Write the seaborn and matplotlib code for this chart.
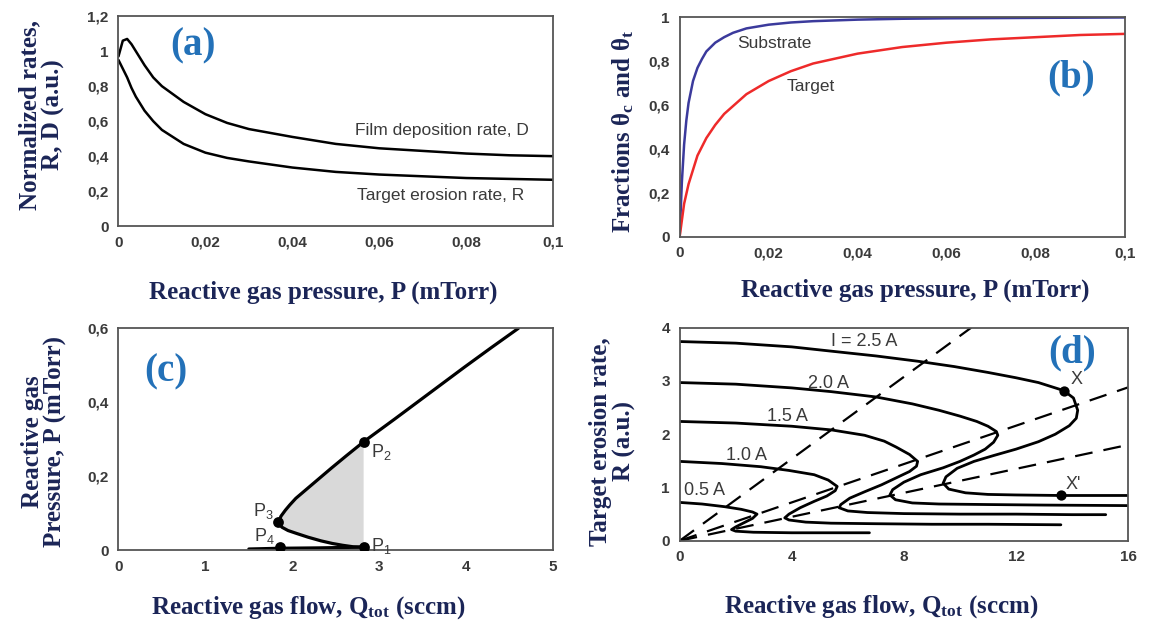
import numpy as np
import pandas as pd
import matplotlib
matplotlib.use("Agg")
import matplotlib.pyplot as plt
import seaborn as sns

sns.set_theme(style="white")
plt.rcParams["font.family"] = ["Liberation Sans", "DejaVu Sans"]
plt.rcParams["mathtext.default"] = "regular"

# ---------------- data ----------------
# (a) normalized rates vs pressure
a_p = [0, 0.001, 0.002, 0.003, 0.004, 0.006, 0.008, 0.01, 0.015, 0.02, 0.025, 0.03,
       0.04, 0.05, 0.06, 0.07, 0.08, 0.09, 0.1]
a_D = [0.97, 1.06, 1.07, 1.04, 1.0, 0.92, 0.85, 0.80, 0.71, 0.64, 0.59, 0.555,
       0.51, 0.47, 0.445, 0.43, 0.415, 0.405, 0.40]
a_R = [0.95, 0.90, 0.85, 0.79, 0.74, 0.66, 0.60, 0.55, 0.47, 0.42, 0.39, 0.37,
       0.335, 0.31, 0.295, 0.285, 0.275, 0.27, 0.265]

# (b) fractions vs pressure
b_p_sub = [0, 0.0005, 0.001, 0.0015, 0.002, 0.003, 0.004, 0.005, 0.006, 0.008, 0.01,
           0.012, 0.015, 0.02, 0.025, 0.03, 0.04, 0.05, 0.06, 0.08, 0.1]
b_sub = [0, 0.25, 0.42, 0.53, 0.61, 0.71, 0.77, 0.81, 0.845, 0.885, 0.91,
         0.93, 0.95, 0.967, 0.977, 0.983, 0.99, 0.994, 0.996, 0.998, 1.0]
b_p_tgt = [0, 0.001, 0.002, 0.004, 0.006, 0.008, 0.01, 0.015, 0.02, 0.025, 0.03,
           0.04, 0.05, 0.06, 0.07, 0.08, 0.09, 0.1]
b_tgt = [0, 0.15, 0.24, 0.37, 0.45, 0.51, 0.56, 0.65, 0.71, 0.755, 0.79,
         0.835, 0.865, 0.885, 0.9, 0.91, 0.92, 0.925]

# (c) pressure vs flow (S-curve)
c_low_q = [1.5, 1.86, 2.3, 2.82]
c_low_p = [0.003, 0.005, 0.006, 0.008]
c_mid_q = [2.82, 2.7, 2.58, 2.46, 2.33, 2.18, 2.05, 1.95, 1.88, 1.84]
c_mid_p = [0.008, 0.009, 0.013, 0.018, 0.025, 0.035, 0.045, 0.053, 0.062, 0.075]
c_up_q = [1.84, 1.87, 1.92, 1.97, 2.04, 2.17, 2.32, 2.45, 2.62, 2.82, 3.18, 3.58,
          3.98, 4.29, 4.6]
c_up_p = [0.075, 0.092, 0.108, 0.122, 0.14, 0.166, 0.196, 0.222, 0.255, 0.293,
          0.355, 0.425, 0.495, 0.548, 0.6]
c_pts_q = [2.82, 2.82, 1.84, 1.86]
c_pts_p = [0.009, 0.293, 0.075, 0.008]
c_pts_lbl = ["P$_1$", "P$_2$", "P$_3$", "P$_4$"]

# (d) erosion rate vs flow for several currents
d_currents = ["0.5 A", "1.0 A", "1.5 A", "2.0 A", "I = 2.5 A"]
d_q = [
    [0, 0.8, 1.6, 2.2, 2.6, 2.76, 2.6, 2.3, 2.0, 1.85, 2.0, 2.63, 4, 5.5, 6.77],
    [0, 1.5, 2.9, 3.9, 4.8, 5.3, 5.62, 5.55, 5.25, 4.8, 4.3, 3.9, 3.75, 3.9, 4.5,
     5.4, 7, 9, 11, 13.6],
    [0, 2, 4, 5.43, 6.6, 7.3, 7.72, 8.2, 8.49, 8.45, 8.2, 7.72, 7.2, 6.6, 6.07,
     5.75, 5.69, 6.0, 6.7, 8, 10, 12, 14, 15.2],
    [0, 2, 4, 5.4, 7, 8.3, 9.25, 10, 10.6, 11.0, 11.3, 11.35, 11.2, 10.9, 10.5,
     10, 9.4, 8.6, 8.0, 7.6, 7.5, 7.7, 8.3, 9.25, 11, 13, 16],
    [0, 2, 4, 5.4, 7, 8.5, 9.8, 11, 12, 12.8, 13.7, 14.05, 14.2, 14.15, 13.9,
     13.4, 12.8, 12, 11.2, 10.5, 9.9, 9.5, 9.4, 9.6, 10.2, 11, 12, 13.6, 16],
]
d_R = [
    [0.72, 0.69, 0.64, 0.59, 0.54, 0.5, 0.42, 0.34, 0.26, 0.21, 0.18, 0.16, 0.15,
     0.15, 0.15],
    [1.49, 1.45, 1.39, 1.32, 1.24, 1.14, 1.02, 0.94, 0.84, 0.74, 0.62, 0.5, 0.43,
     0.39, 0.35, 0.33, 0.32, 0.31, 0.31, 0.30],
    [2.24, 2.21, 2.15, 2.08, 1.98, 1.87, 1.76, 1.62, 1.49, 1.4, 1.3, 1.18, 1.05,
     0.92, 0.8, 0.68, 0.62, 0.56, 0.53, 0.51, 0.5, 0.5, 0.49, 0.49],
    [2.97, 2.94, 2.87, 2.8, 2.7, 2.57, 2.45, 2.34, 2.24, 2.15, 2.05, 1.98, 1.85,
     1.72, 1.61, 1.49, 1.37, 1.24, 1.1, 0.96, 0.86, 0.77, 0.71, 0.69, 0.68, 0.67,
     0.66],
    [3.74, 3.71, 3.64, 3.56, 3.47, 3.37, 3.27, 3.16, 3.06, 2.97, 2.82, 2.68, 2.45,
     2.3, 2.16, 2.0, 1.86, 1.72, 1.6, 1.49, 1.36, 1.2, 1.08, 0.97, 0.9, 0.87,
     0.86, 0.85, 0.85],
]
d_lbl_q = [0.89, 2.38, 3.84, 5.3, 6.6]
d_lbl_R = [0.94, 1.61, 2.33, 2.96, 3.74]
d_dash_q = [[0, 10.4], [0, 16], [0, 16]]
d_dash_R = [[0, 4.0], [0, 2.88], [0, 1.8]]
d_pts_q = [13.7, 13.6]
d_pts_R = [2.82, 0.85]
d_pts_lbl = ["X", "X'"]

# ---------------- style ----------------
NAVY = "#1b2557"
BLUE = "#2371b8"
TXT = "#3a3a3a"
SPINE = "#555555"
SERIF = ["Liberation Serif", "DejaVu Serif"]
LAB_FS = 18


def comma(v):
    s = f"{v:g}"
    return s.replace(".", ",")


def style_axes(ax, xt, yt, xl, yl):
    ax.set_xticks(xt)
    ax.set_yticks(yt)
    ax.set_xticklabels([comma(v) for v in xt])
    ax.set_yticklabels([comma(v) for v in yt])
    ax.set_xlim(xt[0], xt[-1])
    ax.set_ylim(yt[0], yt[-1])
    ax.tick_params(direction="in", length=4, width=1.0, color=SPINE,
                   labelsize=11, labelcolor=TXT, pad=7)
    for lab in ax.get_xticklabels() + ax.get_yticklabels():
        lab.set_fontweight("bold")
    for sp in ax.spines.values():
        sp.set_visible(True)
        sp.set_color(SPINE)
        sp.set_linewidth(1.3)
    ax.set_xlabel(xl, fontsize=LAB_FS, fontweight="bold", color=NAVY, family=SERIF)
    ax.set_ylabel(yl, fontsize=LAB_FS, fontweight="bold", color=NAVY, family=SERIF,
                  linespacing=1.0)


def panel_letter(ax, x, y, s):
    ax.text(x, y, s, fontsize=28, fontweight="bold", color=BLUE, family=SERIF,
            ha="center", va="center")


fig = plt.figure(figsize=(11.5, 6.23), dpi=100)
axA = fig.add_axes([0.103, 0.637, 0.378, 0.337])
axB = fig.add_axes([0.591, 0.620, 0.387, 0.352])
axC = fig.add_axes([0.103, 0.117, 0.378, 0.356])
axD = fig.add_axes([0.591, 0.132, 0.390, 0.342])

# ---- (a)
sns.lineplot(x=a_p, y=a_D, ax=axA, color="black", lw=1.8, sort=False, estimator=None)
sns.lineplot(x=a_p, y=a_R, ax=axA, color="black", lw=1.8, sort=False, estimator=None)
style_axes(axA, [0, 0.02, 0.04, 0.06, 0.08, 0.1], [0, 0.2, 0.4, 0.6, 0.8, 1.0, 1.2],
           "Reactive gas pressure, P (mTorr)", "Normalized rates,\nR, D (a.u.)")
axA.text(0.0544, 0.545, "Film deposition rate, D", fontsize=12.5, color=TXT,
         ha="left", va="center")
axA.text(0.0548, 0.175, "Target erosion rate, R", fontsize=12.5, color=TXT,
         ha="left", va="center")
panel_letter(axA, 0.0172, 1.03, "(a)")
axA.xaxis.set_label_coords(0.47, -0.26)
axA.yaxis.set_label_coords(-0.124, 0.53)

# ---- (b)
sns.lineplot(x=b_p_sub, y=b_sub, ax=axB, color="#3b3a9c", lw=1.8, sort=False, estimator=None)
sns.lineplot(x=b_p_tgt, y=b_tgt, ax=axB, color="#ee2a2a", lw=1.8, sort=False, estimator=None)
style_axes(axB, [0, 0.02, 0.04, 0.06, 0.08, 0.1], [0, 0.2, 0.4, 0.6, 0.8, 1.0],
           "Reactive gas pressure, P (mTorr)", "Fractions θ$_c$ and θ$_t$")
axB.text(0.0129, 0.88, "Substrate", fontsize=12.5, color=TXT, ha="left", va="center")
axB.text(0.024, 0.685, "Target", fontsize=12.5, color=TXT, ha="left", va="center")
panel_letter(axB, 0.088, 0.724, "(b)")
axB.xaxis.set_label_coords(0.53, -0.19)
axB.yaxis.set_label_coords(-0.097, 0.48)

# ---- (c)
poly_q = c_up_q[:10] + c_mid_q
poly_p = c_up_p[:10] + c_mid_p
axC.fill(poly_q, poly_p, color="#d9d9d9", lw=0, zorder=1)
for q, p in [(c_low_q, c_low_p), (c_mid_q, c_mid_p), (c_up_q, c_up_p)]:
    sns.lineplot(x=q, y=p, ax=axC, color="black", lw=2.3, sort=False, estimator=None)
sns.scatterplot(x=c_pts_q, y=c_pts_p, ax=axC, color="black", s=60, zorder=5,
                edgecolor="black", linewidth=0)
style_axes(axC, [0, 1, 2, 3, 4, 5], [0, 0.2, 0.4, 0.6],
           "Reactive gas flow, Q$_{tot}$ (sccm)", "Reactive gas\nPressure, P (mTorr)")
c_lbl_off = [(0.2, 0.002), (0.2, -0.027), (-0.17, 0.03), (-0.18, 0.03)]
for q, p, s, (dq, dp) in zip(c_pts_q, c_pts_p, c_pts_lbl, c_lbl_off):
    axC.text(q + dq, p + dp, s, fontsize=13, color=TXT, ha="center", va="center")
panel_letter(axC, 0.55, 0.483, "(c)")
axC.xaxis.set_label_coords(0.436, -0.2)
axC.yaxis.set_label_coords(-0.118, 0.49)

# ---- (d)
for q, r in zip(d_dash_q, d_dash_R):
    sns.lineplot(x=q, y=r, ax=axD, color="black", lw=1.6, sort=False, estimator=None,
                 dashes=False, linestyle=(0, (8, 5)))
for q, r in zip(d_q, d_R):
    sns.lineplot(x=q, y=r, ax=axD, color="black", lw=2.0, sort=False, estimator=None)
for q, r, s in zip(d_lbl_q, d_lbl_R, d_currents):
    axD.text(q, r, s, fontsize=13, color=TXT, ha="center", va="center")
sns.scatterplot(x=d_pts_q, y=d_pts_R, ax=axD, color="black", s=55, zorder=5,
                linewidth=0)
for q, r, s in zip(d_pts_q, d_pts_R, d_pts_lbl):
    axD.text(q + 0.45, r + 0.2, s, fontsize=13, color=TXT, ha="center", va="center")
style_axes(axD, [0, 4, 8, 12, 16], [0, 1, 2, 3, 4],
           "Reactive gas flow, Q$_{tot}$ (sccm)", "Target erosion rate,\nR (a.u.)")
panel_letter(axD, 14.0, 3.52, "(d)")
axD.xaxis.set_label_coords(0.45, -0.245)
axD.yaxis.set_label_coords(-0.098, 0.466)

for ax in (axA, axB, axC, axD):
    leg = ax.get_legend()
    if leg:
        leg.remove()

fig.savefig("out.png", dpi=100)
